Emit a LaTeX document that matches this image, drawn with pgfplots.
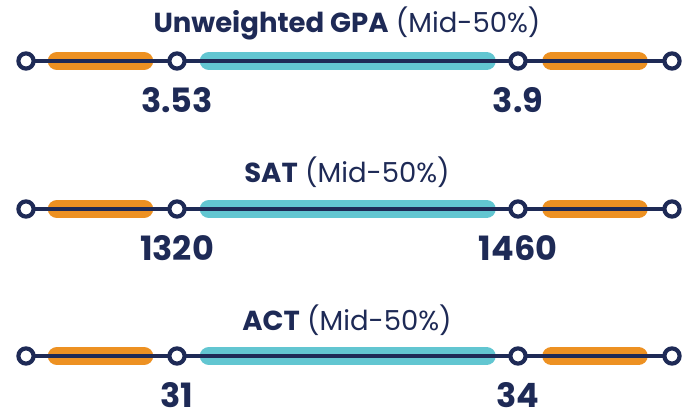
\documentclass[border=0pt]{standalone}
\usepackage{pgfplots}
\pgfplotsset{compat=1.18}
\usepackage{fontspec}
\setmainfont{Poppins}
\definecolor{navy}{RGB}{30,42,86}
\definecolor{myorange}{RGB}{237,145,34}
\definecolor{myteal}{RGB}{98,198,209}
\begin{document}
\begin{tikzpicture}
\begin{axis}[
  width=694pt, height=417pt, scale only axis,
  xmin=0, xmax=694, ymin=-417, ymax=0,
  hide axis, clip=false,
]
\addplot[draw=none] coordinates {(0,0) (694,-417)};
\foreach \yy in {-61,-209,-356}{
  \edef\tmp{\noexpand\addplot[myorange, line width=18.5pt, line cap=round] coordinates {(57,\yy) (144,\yy)};
  \noexpand\addplot[myorange, line width=18.5pt, line cap=round] coordinates {(551.5,\yy) (638.5,\yy)};
  \noexpand\addplot[myteal, line width=18.5pt, line cap=round] coordinates {(209,\yy) (486.5,\yy)};
  \noexpand\addplot[navy, line width=3.8pt] coordinates {(26,\yy) (672,\yy)};
  \noexpand\addplot[only marks, mark=*, mark size=7.6pt, mark options={draw=navy, fill=white, line width=4.2pt}] coordinates {(26,\yy) (177,\yy) (518,\yy) (672,\yy)};}
  \tmp
}
% titles
\tikzset{ttl/.style={text=navy, font=\fontsize{27.5}{30}\selectfont, anchor=base, inner sep=0pt},
         lbl/.style={text=navy, font=\fontsize{33.5}{36}\selectfont\bfseries, anchor=base, inner sep=0pt}}
\node[ttl] at (axis cs:347,-33) {\textbf{Unweighted GPA} (Mid-50\%)};
\node[ttl] at (axis cs:347,-183) {\textbf{SAT} (Mid-50\%)};
\node[ttl] at (axis cs:347,-331) {\textbf{ACT} (Mid-50\%)};
% labels
\node[lbl] at (axis cs:177,-113) {3.53};
\node[lbl] at (axis cs:518,-113) {3.9};
\node[lbl] at (axis cs:177,-261) {1320};
\node[lbl] at (axis cs:518,-261) {1460};
\node[lbl] at (axis cs:177,-408) {31};
\node[lbl] at (axis cs:518,-408) {34};
\end{axis}
\end{tikzpicture}
\end{document}
